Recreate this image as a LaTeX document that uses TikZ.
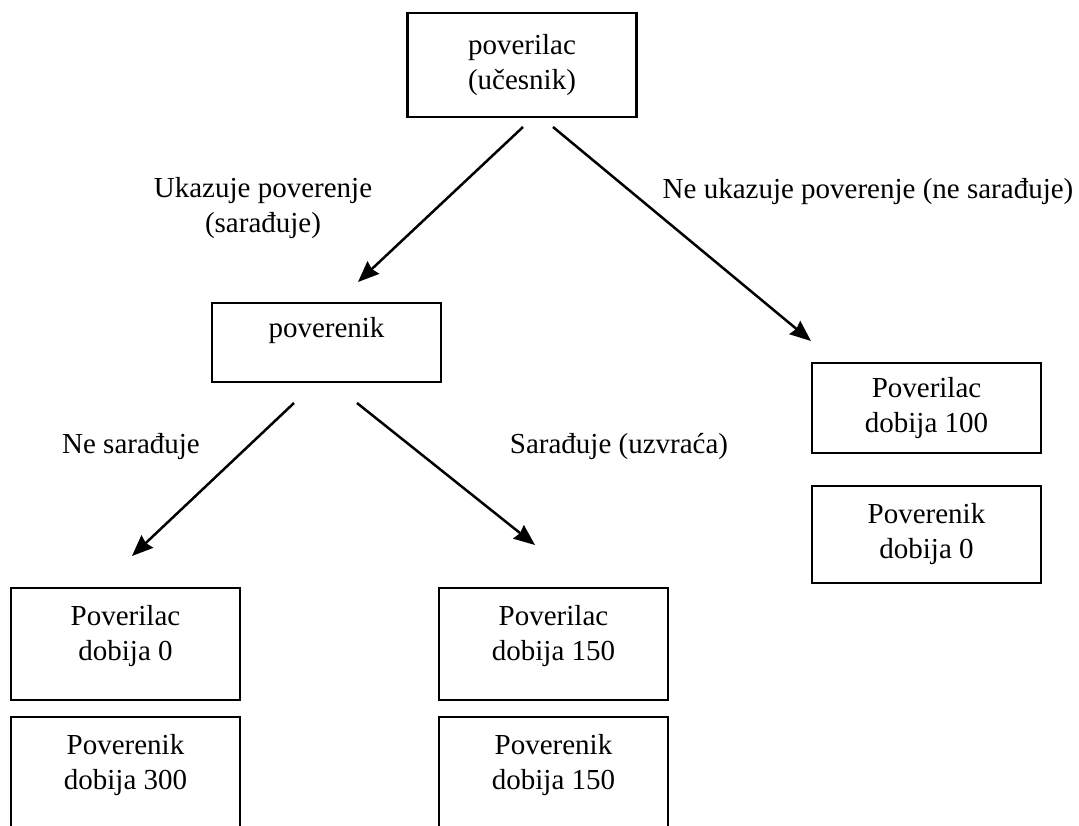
\documentclass[tikz,border=0pt]{standalone}
\usepackage{fontspec}
\setmainfont{Liberation Serif}
\usetikzlibrary{arrows.meta}
\newcommand{\sirina}{229pt}
\newcommand{\slova}{\fontsize{29}{35}\selectfont}
\tikzstyle{kutija}=[draw, line width=2.8pt, minimum width=\sirina, inner sep=0, align=center, font=\slova]
\tikzstyle{gore}=[text depth=22pt]
\tikzstyle{strelica}=[line width=2.5pt, -{Stealth[length=21pt,width=17pt,inset=2pt]}]
\tikzstyle{natpis}=[inner sep=0, align=center, font=\slova]

\begin{document}
\begin{tikzpicture}[x=1pt,y=-1pt]
\useasboundingbox (0,0) rectangle (1079,825);
\clip (0,0) rectangle (1079,825);

%kutije
\node[kutija, minimum height=104pt] (P) at (522,65) {poverilac\\(učesnik)};
\node[kutija, minimum height=79pt, text height=20pt, text depth=31pt] (V) at (326.5,342.5) {poverenik};

\node[kutija, minimum height=90pt] (D1) at (926.5,408) {Poverilac\\dobija 100};
\node[kutija, minimum height=97pt] (D2) at (926.5,534.5) {Poverenik\\dobija 0};

\foreach \x/\ime/\a/\b in {125.5/L/0/300, 553.5/M/150/150}
{\node[kutija,gore, minimum height=112pt] (\ime1) at (\x,644) {Poverilac\\dobija \a};
\node[kutija,gore, minimum height=112pt] (\ime2) at (\x,773) {Poverenik\\dobija \b};
}

%strelice
\coordinate (s1) at (523,127);
\coordinate (k1) at (358,282);
\coordinate (s2) at (553,127);
\coordinate (k2) at (811,341);
\coordinate (s3) at (294,403);
\coordinate (k3) at (132,556);
\coordinate (s4) at (357,403);
\coordinate (k4) at (535,545);

\foreach \I in {1,...,4}
\draw[strelica] (s\I) -- (k\I);

%natpisi
\node[natpis] (n1) at (263,208) {Ukazuje poverenje\\(sarađuje)};
\node[natpis, anchor=base] (n2) at (868,198) {Ne ukazuje poverenje (ne sarađuje)};
\node[natpis, anchor=base] (n3) at (131,453) {Ne sarađuje};
\node[natpis, anchor=base] (n4) at (619,453) {Sarađuje (uzvraća)};
\end{tikzpicture}
\end{document}
